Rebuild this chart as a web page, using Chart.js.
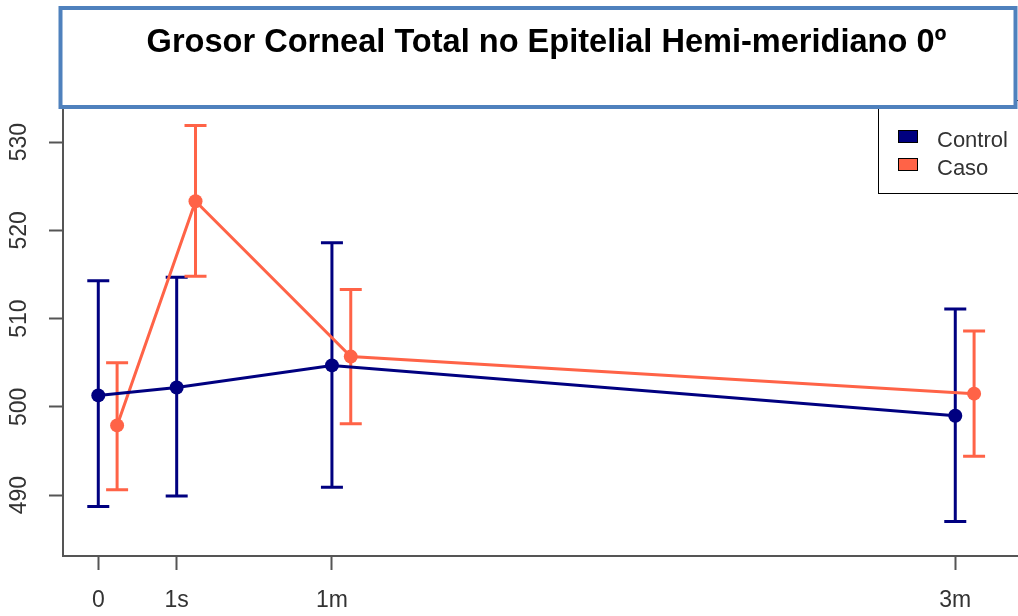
<!DOCTYPE html>
<html>
<head>
<meta charset="utf-8">
<script src="https://cdn.jsdelivr.net/npm/chart.js@4.4.1/dist/chart.umd.min.js"></script>
<style>
  html, body { margin: 0; padding: 0; background: #fff; }
</style>
</head>
<body>
<canvas id="myChart" width="1018" height="616"></canvas>
<script>
// time points (0, 1 semana, 1 mes, 3 meses) on a linear axis
const tickLabels = ['0', '1s', '1m', '3m'];
const timePos = [0, 1, 2.98, 10.93];
const yTicks = [490, 500, 510, 520, 530];

const controlMean = [501.3, 502.2, 504.7, 499.0];
const controlLow = [488.7, 489.9, 490.9, 487.0];
const controlHigh = [514.3, 514.7, 518.6, 511.1];

const casoMean = [497.9, 523.3, 505.7, 501.5];
const casoLow = [490.6, 514.8, 498.1, 494.4];
const casoHigh = [505.0, 531.9, 513.3, 508.6];

const titleText = 'Grosor Corneal Total no Epitelial Hemi-meridiano 0º';
const seriesNames = ['Control', 'Caso'];
const seriesColors = ['#000080', '#FF6347'];

const FONT = '"Liberation Sans", Arial, sans-serif';
const casoShift = 0.24; // caso drawn a little to the right so bars don't overlap

function points(mean, low, high, shift) {
  return mean.map((m, i) => ({ x: timePos[i] + shift, y: m, lo: low[i], hi: high[i] }));
}

const errorBars = {
  id: 'errorBars',
  beforeDatasetsDraw(chart) {
    const { ctx, scales: { x, y } } = chart;
    chart.data.datasets.forEach(ds => {
      ctx.save();
      ctx.strokeStyle = ds.borderColor;
      ctx.lineWidth = 3;
      ds.data.forEach(p => {
        const px = x.getPixelForValue(p.x);
        const top = y.getPixelForValue(p.hi);
        const bot = y.getPixelForValue(p.lo);
        ctx.beginPath();
        ctx.moveTo(px, top); ctx.lineTo(px, bot);
        ctx.moveTo(px - 11, top); ctx.lineTo(px + 11, top);
        ctx.moveTo(px - 11, bot); ctx.lineTo(px + 11, bot);
        ctx.stroke();
      });
      ctx.restore();
    });
  }
};

// legend box and the framed title sitting over the top of the plot
const decorations = {
  id: 'decorations',
  afterDraw(chart) {
    const ctx = chart.ctx;
    ctx.save();

    // legend
    ctx.fillStyle = '#fff';
    ctx.fillRect(878, 100, 150, 93);
    ctx.strokeStyle = '#000';
    ctx.lineWidth = 1;
    ctx.strokeRect(878.5, 100.5, 150, 93);
    ctx.font = '22px ' + FONT;
    ctx.textBaseline = 'alphabetic';
    ctx.textAlign = 'left';
    seriesNames.forEach((name, i) => {
      const top = 130 + i * 28;
      ctx.fillStyle = seriesColors[i];
      ctx.fillRect(898, top, 20, 13);
      ctx.strokeStyle = '#000';
      ctx.strokeRect(898.5, top + 0.5, 19, 12);
      ctx.fillStyle = '#333';
      ctx.fillText(name, 937, top + 17);
    });

    // title frame
    ctx.fillStyle = '#fff';
    ctx.fillRect(60, 8, 955, 99);
    ctx.strokeStyle = '#4F81BD';
    ctx.lineWidth = 4;
    ctx.strokeRect(60.5, 8, 955, 99);

    ctx.font = 'bold 100px ' + FONT;
    const w100 = ctx.measureText(titleText).width;
    const fs = 100 * 800 / w100;
    const sy = 24 / (0.716 * fs);
    ctx.font = 'bold ' + fs + 'px ' + FONT;
    ctx.fillStyle = '#000';
    ctx.textAlign = 'center';
    ctx.translate(546.5, 52);
    ctx.scale(1, sy);
    ctx.fillText(titleText, 0, 0);
    ctx.restore();
  }
};

const axisGrid = {
  display: true,
  drawOnChartArea: false,
  drawTicks: true,
  tickLength: 14,
  tickWidth: 2,
  tickColor: '#555'
};
const axisBorder = { display: true, color: '#555', width: 2 };
const tickFont = { family: FONT, size: 23 };

new Chart(document.getElementById('myChart'), {
  type: 'scatter',
  data: {
    datasets: [{
      label: seriesNames[0],
      data: points(controlMean, controlLow, controlHigh, 0),
      showLine: true,
      borderColor: seriesColors[0],
      backgroundColor: seriesColors[0],
      borderWidth: 3,
      pointRadius: 7,
      pointBorderWidth: 0
    }, {
      label: seriesNames[1],
      data: points(casoMean, casoLow, casoHigh, casoShift),
      showLine: true,
      borderColor: seriesColors[1],
      backgroundColor: seriesColors[1],
      borderWidth: 3,
      pointRadius: 7,
      pointBorderWidth: 0
    }]
  },
  options: {
    responsive: false,
    animation: false,
    layout: { autoPadding: false, padding: { top: 106, left: 0, right: 0, bottom: 0 } },
    plugins: {
      legend: { display: false },
      tooltip: { enabled: false }
    },
    scales: {
      x: {
        type: 'linear',
        min: -0.45,
        max: 11.73,
        afterBuildTicks: s => { s.ticks = timePos.map(v => ({ value: v })); },
        afterFit: s => { s.height = 60; s.paddingLeft = 0; s.paddingRight = 0; },
        grid: axisGrid,
        border: axisBorder,
        ticks: {
          autoSkip: false,
          maxRotation: 0,
          padding: 17,
          color: '#333',
          font: tickFont,
          callback: (v, i) => tickLabels[i]
        }
      },
      y: {
        type: 'linear',
        min: 483.1,
        max: 534.1,
        afterBuildTicks: s => { s.ticks = yTicks.map(v => ({ value: v })); },
        afterFit: s => { s.width = 63; s.paddingTop = 0; s.paddingBottom = 0; },
        grid: axisGrid,
        border: axisBorder,
        ticks: {
          minRotation: 90,
          maxRotation: 90,
          crossAlign: 'center',
          padding: 10,
          color: '#333',
          font: tickFont
        }
      }
    }
  },
  plugins: [errorBars, decorations]
});
</script>
</body>
</html>
